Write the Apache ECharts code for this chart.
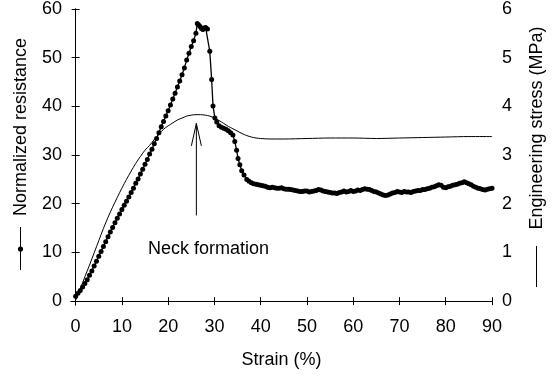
<!DOCTYPE html>
<html>
<head>
<meta charset="utf-8">
<script src="https://cdn.jsdelivr.net/npm/echarts@6/dist/echarts.min.js"></script>
<style>
html,body{margin:0;padding:0;background:#fff;}
#chart{width:555px;height:374px;}
</style>
</head>
<body>
<div id="chart"></div>
<script>
// ---- data ----
const strainTicks = [0, 10, 20, 30, 40, 50, 60, 70, 80, 90];
const resistanceTicks = [0, 10, 20, 30, 40, 50, 60];
const stressTicks = [0, 1, 2, 3, 4, 5, 6];

const resStrain = [
  0, 0.5, 1, 1.5, 2, 2.5, 3, 3.5, 4, 4.5, 5, 5.5, 6, 6.5, 7, 7.5, 8, 8.5, 9, 9.5,
  10, 10.5, 11, 11.5, 12, 12.5, 13, 13.5, 14, 14.5, 15, 15.5, 16, 16.5, 17, 17.5, 18, 18.5, 19, 19.5,
  20, 20.5, 21, 21.5, 22, 22.5, 23, 23.5, 24, 24.5, 25, 25.5, 26, 26.3, 26.6, 26.9, 27.2, 27.5, 27.8, 28.1, 28.5,
  29.0, 29.4, 29.7, 30.1, 30.5, 31, 31.5, 32, 32.5, 33, 33.5, 34, 34.4, 34.8, 35.1, 35.5, 35.9, 36.4, 37, 37.5, 38, 38.5, 39, 39.5,
  40, 40.5, 41, 41.5, 42, 42.5, 43, 43.5, 44, 44.5, 45, 45.5, 46, 46.5, 47, 47.5, 48, 48.5, 49, 49.5,
  50, 50.5, 51, 51.5, 52, 52.5, 53, 53.5, 54, 54.5, 55, 55.5, 56, 56.5, 57, 57.5, 58, 58.5, 59, 59.5,
  60, 60.5, 61, 61.5, 62, 62.5, 63, 63.5, 64, 64.5, 65, 65.5, 66, 66.5, 67, 67.5, 68, 68.5, 69, 69.5,
  70, 70.5, 71, 71.5, 72, 72.5, 73, 73.5, 74, 74.5, 75, 75.5, 76, 76.5, 77, 77.5, 78, 78.5, 79, 79.5,
  80, 80.5, 81, 81.5, 82, 82.5, 83, 83.5, 84, 84.5, 85, 85.5, 86, 86.5, 87, 87.5, 88, 88.5, 89, 89.5, 90
];
const resistance = [
  1.0, 1.6, 2.2, 2.9, 3.6, 4.4, 5.3, 6.2, 7.2, 8.2, 9.2, 10.2, 11.2, 12.2, 13.2, 14.2, 15.1, 16.1, 17.0, 17.9,
  18.8, 19.7, 20.5, 21.4, 22.3, 23.2, 24.2, 25.1, 26.1, 27.1, 28.1, 29.1, 30.2, 31.2, 32.3, 33.4, 34.6, 35.8, 36.9, 38.0,
  39.1, 40.3, 41.5, 42.7, 44.0, 45.2, 46.5, 47.9, 49.5, 50.9, 52.3, 53.5, 55.0, 57.0, 56.7, 56.4, 56.0, 55.8, 56.1, 56.2, 55.9,
  51.3, 45.5, 40.1, 37.6, 36.8, 36.0, 35.7, 35.5, 35.3, 35.0, 34.6, 34.1, 32.8, 31.0, 29.3, 28.0, 26.8, 25.9, 25.0, 24.6, 24.3, 24.1, 24.0, 23.9,
  23.8, 23.7, 23.6, 23.4, 23.3, 23.4, 23.3, 23.2, 23.2, 23.3, 23.1, 23.0, 23.0, 22.9, 22.8, 22.7, 22.6, 22.5, 22.5, 22.6,
  22.6, 22.4, 22.5, 22.6, 22.7, 22.9, 22.8, 22.6, 22.5, 22.4, 22.3, 22.2, 22.2, 22.1, 22.3, 22.4, 22.6, 22.4, 22.5, 22.7,
  22.5, 22.6, 22.8, 22.7, 22.9, 23.1, 23.0, 22.9, 22.7, 22.5, 22.4, 22.2, 22.0, 21.8, 21.7, 21.8, 22.0, 22.2, 22.3, 22.5,
  22.4, 22.3, 22.5, 22.4, 22.4, 22.3, 22.5, 22.6, 22.7, 22.7, 22.9, 22.9, 23.1, 23.2, 23.4, 23.5, 23.7, 23.9, 23.8, 23.4,
  23.3, 23.5, 23.6, 23.8, 23.9, 24.0, 24.2, 24.3, 24.5, 24.3, 24.1, 23.9, 23.6, 23.4, 23.2, 23.1, 22.9, 22.8, 23.0, 23.1, 23.2
];

const stressStrain = [
  0, 1, 2, 3, 4, 5, 6, 7, 8, 9, 10, 11, 12, 13, 14, 15, 16, 17, 18, 19,
  20, 21, 22, 23, 24, 25, 26, 27, 28, 29, 30, 31, 32, 33, 34, 35, 36, 37, 38, 39,
  40, 42, 45, 50, 55, 60, 65, 70, 75, 80, 85, 90
];
const stress = [
  0.02, 0.25, 0.5, 0.74, 0.99, 1.24, 1.49, 1.72, 1.93, 2.13, 2.32, 2.5, 2.67, 2.83, 2.97, 3.1, 3.2, 3.32, 3.43, 3.53,
  3.6, 3.66, 3.72, 3.76, 3.8, 3.82, 3.83, 3.83, 3.82, 3.8, 3.76, 3.71, 3.65, 3.59, 3.54, 3.49, 3.44, 3.4, 3.37, 3.35,
  3.34, 3.33, 3.33, 3.34, 3.35, 3.35, 3.34, 3.35, 3.36, 3.37, 3.38, 3.38
];

// annotation (in data units)
const neckArrow = { x: 26.1, yFrom: 17.6, yTo: 36.5, headLen: 4.6, headHalf: 1.08 };

// ---- chart ----
const FONT = 'Liberation Sans, Arial, sans-serif';
const FS = 18;
const chart = echarts.init(document.getElementById('chart'), null, { renderer: 'canvas' });

const axisLine = { show: true, lineStyle: { color: '#000', width: 1 } };
const tickStyle = { color: '#000', width: 1 };

const option = {
  animation: false,
  backgroundColor: '#fff',
  grid: { left: 71, right: 63, top: 9, bottom: 67, containLabel: false },
  xAxis: [
    {
      type: 'value', min: -1, max: 90, position: 'bottom',
      axisLine: axisLine,
      axisTick: { show: true, inside: true, length: 4, lineStyle: tickStyle, customValues: strainTicks },
      axisLabel: { show: true, customValues: strainTicks, margin: 13, color: '#000', fontSize: FS, fontFamily: FONT },
      splitLine: { show: false },
      name: 'Strain (%)', nameLocation: 'middle', nameGap: 46,
      nameTextStyle: { color: '#000', fontSize: FS, fontFamily: FONT }
    },
    {
      type: 'value', min: -1, max: 90, position: 'top',
      axisLine: axisLine,
      axisTick: { show: true, inside: true, length: 4, lineStyle: tickStyle, customValues: strainTicks },
      axisLabel: { show: false },
      splitLine: { show: false }
    }
  ],
  yAxis: [
    {
      type: 'value', min: -0.8, max: 60, position: 'left',
      axisLine: axisLine,
      axisTick: { show: true, inside: true, length: 4, lineStyle: tickStyle, customValues: resistanceTicks },
      axisLabel: { show: true, customValues: resistanceTicks, margin: 9, color: '#000', fontSize: FS, fontFamily: FONT },
      splitLine: { show: false }
    },
    {
      type: 'value', min: -0.08, max: 6, position: 'right',
      axisLine: axisLine,
      axisTick: { show: true, inside: true, length: 4, lineStyle: tickStyle, customValues: stressTicks },
      axisLabel: { show: true, customValues: stressTicks, margin: 10, color: '#000', fontSize: FS, fontFamily: FONT },
      splitLine: { show: false }
    }
  ],
  series: [
    {
      name: 'Normalized resistance', type: 'line', xAxisIndex: 0, yAxisIndex: 0,
      data: resStrain.map((x, i) => [x, resistance[i]]),
      symbol: 'circle', symbolSize: 5, showSymbol: true,
      itemStyle: { color: '#000' },
      lineStyle: { color: '#000', width: 1.3 },
      z: 3
    },
    {
      name: 'Engineering stress (MPa)', type: 'line', xAxisIndex: 0, yAxisIndex: 1,
      data: stressStrain.map((x, i) => [x, stress[i]]),
      symbol: 'none', smooth: 0.3,
      lineStyle: { color: '#000', width: 1 },
      z: 2
    }
  ]
};
chart.setOption(option);

// annotations and axis titles
const p = (x, y) => chart.convertToPixel({ xAxisIndex: 0, yAxisIndex: 0 }, [x, y]);
const a0 = p(neckArrow.x, neckArrow.yFrom);
const a1 = p(neckArrow.x, neckArrow.yTo);
const hl = p(neckArrow.x - neckArrow.headHalf, neckArrow.yTo - neckArrow.headLen);
const hr = p(neckArrow.x + neckArrow.headHalf, neckArrow.yTo - neckArrow.headLen);

chart.setOption({
  graphic: [
    { type: 'line', shape: { x1: a0[0], y1: a0[1], x2: a1[0], y2: a1[1] }, style: { stroke: '#000', lineWidth: 1 } },
    { type: 'polyline', shape: { points: [hl, a1, hr] }, style: { stroke: '#000', lineWidth: 1, fill: null } },
    { type: 'text', x: 148, y: 249, style: { text: 'Neck formation', fill: '#000', font: FS + 'px ' + FONT, textAlign: 'left', textVerticalAlign: 'middle' } },
    { type: 'text', x: 21, y: 127, rotation: Math.PI / 2, style: { text: 'Normalized resistance', fill: '#000', font: FS + 'px ' + FONT, textAlign: 'center', textVerticalAlign: 'middle' } },
    { type: 'line', shape: { x1: 20.5, y1: 227, x2: 20.5, y2: 270 }, style: { stroke: '#000', lineWidth: 1 } },
    { type: 'circle', shape: { cx: 20.5, cy: 249, r: 2.6 }, style: { fill: '#000' } },
    { type: 'text', x: 537, y: 128, rotation: Math.PI / 2, style: { text: 'Engineering stress (MPa)', fill: '#000', font: FS + 'px ' + FONT, textAlign: 'center', textVerticalAlign: 'middle' } },
    { type: 'line', shape: { x1: 536.5, y1: 246, x2: 536.5, y2: 287 }, style: { stroke: '#000', lineWidth: 1 } }
  ]
});
</script>
</body>
</html>
